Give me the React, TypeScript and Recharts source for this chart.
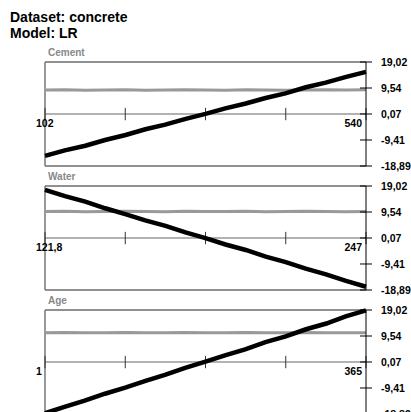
import { LineChart, Line, XAxis, YAxis, ReferenceLine } from 'recharts';

const yTicks = [-18.89, -9.41, 0.07, 9.54, 19.02];

const cementX = [102, 129, 157, 184, 212, 239, 266, 294, 321, 348, 376, 403, 430, 458, 485, 513, 540];
const cementFit = [-15.2, -13.2, -11.5, -9.4, -7.6, -5.5, -3.8, -1.7, 0.1, 2.1, 3.9, 5.9, 7.6, 9.8, 11.5, 13.6, 15.4];
const cementMean = [8.8, 8.9, 8.7, 8.8, 8.9, 8.7, 8.8, 8.9, 8.8, 8.7, 8.9, 8.8, 8.7, 8.8, 8.9, 8.8, 8.9];

const waterX = [121.8, 129.6, 137.5, 145.3, 153.1, 160.9, 168.8, 176.6, 184.4, 192.2, 200.1, 207.9, 215.7, 223.5, 231.4, 239.2, 247];
const waterFit = [17.6, 15.3, 13.3, 10.9, 8.8, 6.5, 4.5, 2.1, 0.0, -2.3, -4.3, -6.7, -8.7, -11.1, -13.2, -15.6, -17.7];
const waterMean = [9.7, 9.8, 9.6, 9.7, 9.8, 9.7, 9.6, 9.8, 9.7, 9.7, 9.8, 9.6, 9.7, 9.8, 9.7, 9.6, 9.7];

const ageX = [1, 24, 46, 69, 92, 115, 137, 160, 183, 206, 228, 251, 274, 297, 320, 342, 365];
const ageFit = [-18.6, -16.2, -14.0, -11.5, -9.3, -6.8, -4.6, -2.1, 0.2, 2.6, 4.7, 7.3, 9.4, 12.0, 14.1, 16.7, 18.9];
const ageMean = [10.7, 10.8, 10.7, 10.7, 10.8, 10.7, 10.7, 10.8, 10.7, 10.7, 10.8, 10.7, 10.7, 10.8, 10.7, 10.7, 10.7];

const panels = [
  { name: 'Cement', x: cementX, fit: cementFit, mean: cementMean, min: '102', max: '540' },
  { name: 'Water', x: waterX, fit: waterFit, mean: waterMean, min: '121,8', max: '247' },
  { name: 'Age', x: ageX, fit: ageFit, mean: ageMean, min: '1', max: '365' },
];

const FONT = '"Liberation Sans", Arial, sans-serif';
const fmt = (v: number) => v.toFixed(2).replace('.', ',');

function YTick({ x, y, payload }: any) {
  return (
    <g>
      <line x1={x - 6} x2={x + 6} y1={y} y2={y} stroke="#000" />
      <text x={x + 15} y={y} dy="0.35em" fontSize={10.5} fontWeight="bold" fontFamily={FONT} fill="#000">
        {fmt(payload.value)}
      </text>
    </g>
  );
}

function EdgeLabel({ viewBox, text, anchor, dx }: any) {
  if (!viewBox) return null;
  const cy = viewBox.y + viewBox.height / 2;
  return (
    <text x={viewBox.x + dx} y={cy + 12.5} textAnchor={anchor} fontSize={10.5} fontWeight="bold"
      fontFamily={FONT} fill="#000">
      {text}
    </text>
  );
}

function Panel({ p, top }: { p: (typeof panels)[number]; top: number }) {
  const data = p.x.map((x, i) => ({ x, fit: p.fit[i], mean: p.mean[i] }));
  const lo = p.x[0];
  const hi = p.x[p.x.length - 1];
  const xTicks = [0, 0.25, 0.5, 0.75, 1].map((f) => lo + (hi - lo) * f);
  return (
    <div style={{ position: 'absolute', left: 0, top: top - 10 }}>
      <LineChart width={411} height={124} data={data} margin={{ top: 10, bottom: 10, left: 45, right: 5 }}>
        <XAxis type="number" dataKey="x" domain={[lo, hi]} hide />
        <YAxis orientation="right" type="number" domain={[-18.89, 19.02]} ticks={yTicks} width={40}
          axisLine={{ stroke: '#000' }} tickLine={false} tickSize={0} tickMargin={0} tick={<YTick />} />
        <ReferenceLine y={19.02} stroke="#222" />
        <ReferenceLine y={-18.89} stroke="#222" />
        <ReferenceLine x={lo} stroke="#777" strokeWidth={1.5} />
        <ReferenceLine y={0.07} stroke="#666" />
        {xTicks.map((t, i) => (
          <ReferenceLine key={i} segment={[{ x: t, y: -2.2 }, { x: t, y: 2.3 }]} stroke="#333"
            label={i === 0 ? <EdgeLabel text={p.min} anchor="start" dx={-9} />
              : i === 4 ? <EdgeLabel text={p.max} anchor="end" dx={-4} /> : undefined} />
        ))}
        <Line dataKey="mean" type="linear" stroke="#999" strokeWidth={3} dot={false} isAnimationActive={false} />
        <Line dataKey="fit" type="linear" stroke="#000" strokeWidth={4.5} dot={false} isAnimationActive={false} />
      </LineChart>
      <div style={{ position: 'absolute', left: 48, top: -5, fontSize: 10, fontWeight: 'bold', color: '#888',
        fontFamily: FONT, lineHeight: '12px' }}>
        {p.name}
      </div>
    </div>
  );
}

export default function App() {
  const tops = [62, 186, 310];
  return (
    <div style={{ position: 'absolute', left: 0, top: 0, width: 411, height: 412, overflow: 'hidden',
      background: '#fff', fontFamily: FONT }}>
      <div style={{ position: 'absolute', left: 10, top: 9, fontSize: 14, fontWeight: 'bold', lineHeight: '16px' }}>
        Dataset: concrete<br />Model: LR
      </div>
      {panels.map((p, i) => (
        <Panel key={p.name} p={p} top={tops[i]} />
      ))}
    </div>
  );
}
